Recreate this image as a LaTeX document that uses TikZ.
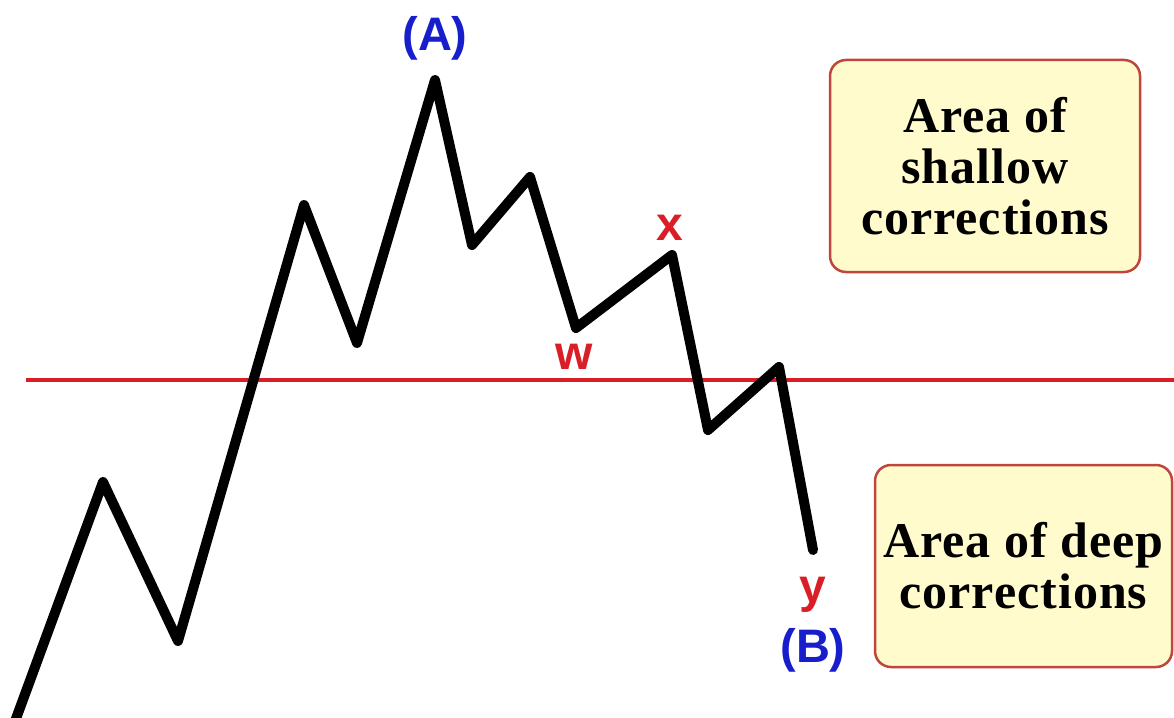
\documentclass[tikz,border=0pt]{standalone}
\usepackage{fontspec}
\setmainfont{Liberation Serif}
\newfontfamily\boxfont[LetterSpace=2]{Liberation Serif}
\newfontfamily\lblfont{Liberation Sans}
\definecolor{wavered}{RGB}{218,30,40}
\definecolor{waveblue}{RGB}{25,30,205}
\definecolor{boxfill}{RGB}{255,251,205}
\definecolor{boxedge}{RGB}{190,70,60}
\begin{document}
\begin{tikzpicture}[x=1pt,y=-1pt,
  wave/.style={line width=10pt,black,line join=round,line cap=round},
  level/.style={line width=3.5pt,wavered},
  redlbl/.style={text=wavered,font=\lblfont\bfseries\fontsize{48}{50}\selectfont,inner sep=0pt},
  bluelbl/.style={text=waveblue,font=\lblfont\bfseries\fontsize{47}{50}\selectfont,inner sep=0pt},
  areabox/.style={draw=boxedge,line width=2.5pt,fill=boxfill,rounded corners=16pt,align=center,
    inner sep=0pt,font=\boxfont\bfseries\fontsize{50}{51}\selectfont}]
\useasboundingbox (0,0) rectangle (1174,717);
\fill[white] (0,0) rectangle (1174,717);
% wave vertices
\coordinate (p0) at (10,735);
\coordinate (p1) at (103,482);
\coordinate (p2) at (178,641);
\coordinate (p3) at (304,205);
\coordinate (p4) at (357,343);
\coordinate (p5) at (435,80);
\coordinate (p6) at (472,245);
\coordinate (p7) at (530,177);
\coordinate (p8) at (576,328);
\coordinate (p9) at (672,255);
\coordinate (p10) at (708,430);
\coordinate (p11) at (779,367);
\coordinate (p12) at (813,550);
% level line
\coordinate (l0) at (26,380);
\coordinate (l1) at (1180,380);
\draw[level] (l0) -- (l1);
\draw[wave] (p0) -- (p1) -- (p2) -- (p3) -- (p4) -- (p5) -- (p6) -- (p7) -- (p8) -- (p9) -- (p10) -- (p11) -- (p12);
% labels
\node[bluelbl] (A) at (435,38) {(A)};
\node[redlbl] (x) at (670,228) {x};
\node[redlbl] (w) at (574,357) {w};
\node[redlbl] (y) at (813,595) {y};
\node[bluelbl] (B) at (813,650) {(B)};
% boxes
\node[areabox,minimum width=310pt,minimum height=212pt] (shallow) at (985,166) {Area of\\shallow\\corrections};
\node[areabox,minimum width=297pt,minimum height=202pt] (deep) at (1023.5,566) {Area of deep\\corrections};
\end{tikzpicture}
\end{document}
